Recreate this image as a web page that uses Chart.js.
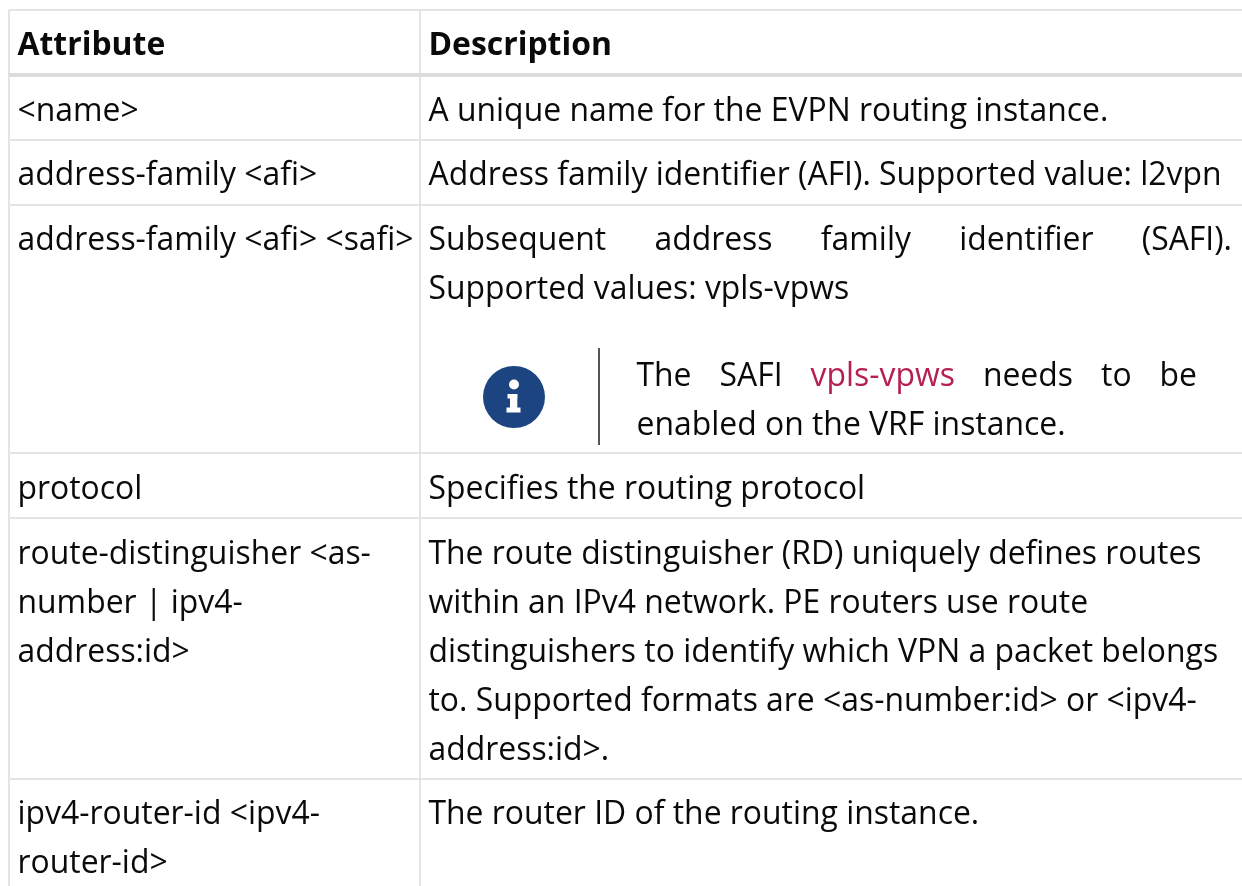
<!DOCTYPE html>
<html>
<head>
<meta charset="utf-8">
<script src="https://cdn.jsdelivr.net/npm/chart.js@4"></script>
<style>
  html, body { margin: 0; padding: 0; background: #fff; overflow: hidden; }
  #tableChart { display: block; }
</style>
</head>
<body>
<canvas id="tableChart" width="1242" height="886"></canvas>
<script>
// Table text
const headers = ['Attribute', 'Description'];
const attributes = [
    ['<name>'],
    ['address-family <afi>'],
    ['address-family <afi> <safi>'],
    ['protocol'],
    ['route-distinguisher <as-', 'number | ipv4-', 'address:id>'],
    ['ipv4-router-id <ipv4-', 'router-id>']
];
const descriptions = [
    ['A unique name for the EVPN routing instance.'],
    ['Address family identifier (AFI). Supported value: l2vpn'],
    ['Subsequent address family identifier (SAFI).', 'Supported values: vpls-vpws'],
    ['Specifies the routing protocol'],
    ['The route distinguisher (RD) uniquely defines routes', 'within an IPv4 network. PE routers use route',
     'distinguishers to identify which VPN a packet belongs', 'to. Supported formats are <as-number:id> or <ipv4-',
     'address:id>.'],
    ['The router ID of the routing instance.']
];
const noteLines = ['The SAFI vpls-vpws needs to be', 'enabled on the VRF instance.'];
const noteLink = 'vpls-vpws';

// Layout, in page pixels (the scales below run 1:1 with the canvas)
const colEdges = [9, 420];
const rowEdges = [10, 75, 140, 205, 453, 518, 779];
const headerRule = 75;
const headerBaseline = 55;
const rowBaselines = [121, 185, 250, 499, 564, 824];
const lineHeight = 49;
const cellPad = 8.5;
const noteBaselines = [386, 435];
const noteX = 636.5;
const noteRight = 1197;
const safiRight = 1232;
const noteRule = { x: 599, top: 348, bottom: 445 };
const icon = { x: 514, y: 397, r: 31 };

const FONT = '"Open Sans", sans-serif';
const FONT_SIZE = 31.9;
const TEXT = '#0a0a0a';
const LINK = '#b5204f';
const RULE = '#e4e4e4';
const HEADER_RULE = '#dcdcdc';

// spreads the words of a line between x and right
function drawJustified(ctx, line, x, right, y) {
    const words = line.split(' ');
    const used = words.reduce((sum, w) => sum + ctx.measureText(w).width, 0);
    const gap = (right - x - used) / (words.length - 1);
    let px = x;
    words.forEach(w => {
        ctx.fillStyle = w === noteLink ? LINK : TEXT;
        ctx.fillText(w, px, y);
        px += ctx.measureText(w).width + gap;
    });
    ctx.fillStyle = TEXT;
}

const tablePlugin = {
    id: 'tableText',
    afterDatasetsDraw(chart) {
        const ctx = chart.ctx;
        const sx = chart.scales.x;
        const sy = chart.scales.y;
        const left = sx.getPixelForValue(colEdges[0] + cellPad);
        const descX = sx.getPixelForValue(colEdges[1] + cellPad);

        ctx.save();
        ctx.textBaseline = 'alphabetic';
        ctx.fillStyle = TEXT;

        ctx.font = 'bold ' + FONT_SIZE + 'px ' + FONT;
        ctx.fillText(headers[0], left, sy.getPixelForValue(headerBaseline));
        ctx.fillText(headers[1], descX, sy.getPixelForValue(headerBaseline));

        ctx.font = FONT_SIZE + 'px ' + FONT;
        attributes.forEach((lines, r) => {
            lines.forEach((line, i) => {
                ctx.fillText(line, left, sy.getPixelForValue(rowBaselines[r] + i * lineHeight));
            });
        });
        descriptions.forEach((lines, r) => {
            lines.forEach((line, i) => {
                const y = sy.getPixelForValue(rowBaselines[r] + i * lineHeight);
                if (r === 2 && i === 0) {
                    drawJustified(ctx, line, descX, sx.getPixelForValue(safiRight), y);
                } else {
                    ctx.fillText(line, descX, y);
                }
            });
        });

        // note inside the SAFI row
        drawJustified(ctx, noteLines[0], sx.getPixelForValue(noteX), sx.getPixelForValue(noteRight), sy.getPixelForValue(noteBaselines[0]));
        ctx.fillText(noteLines[1], sx.getPixelForValue(noteX), sy.getPixelForValue(noteBaselines[1]));

        ctx.strokeStyle = '#555555';
        ctx.lineWidth = 2;
        ctx.beginPath();
        ctx.moveTo(sx.getPixelForValue(noteRule.x), sy.getPixelForValue(noteRule.top));
        ctx.lineTo(sx.getPixelForValue(noteRule.x), sy.getPixelForValue(noteRule.bottom));
        ctx.stroke();

        // the "i" of the info icon
        const ix = sx.getPixelForValue(icon.x);
        const iy = sy.getPixelForValue(icon.y);
        ctx.fillStyle = '#ffffff';
        ctx.beginPath();
        ctx.arc(ix, iy - 12.5, 5, 0, Math.PI * 2);
        ctx.fill();
        ctx.fillRect(ix - 6.5, iy - 3, 9.8, 4.5);
        ctx.fillRect(ix - 4, iy - 3, 7.3, 15);
        ctx.fillRect(ix - 7.5, iy + 10.5, 14, 5);
        ctx.restore();
    }
};

const tableChart = new Chart(document.getElementById('tableChart').getContext('2d'), {
    type: 'scatter',
    data: {
        datasets: [{
            data: [{ x: icon.x, y: icon.y }],
            pointRadius: icon.r,
            pointHoverRadius: icon.r,
            pointBackgroundColor: '#1b4480',
            pointBorderWidth: 0
        }]
    },
    options: {
        responsive: false,
        animation: false,
        events: [],
        layout: { autoPadding: false, padding: { left: colEdges[0], top: rowEdges[0], right: 0, bottom: 0 } },
        plugins: { legend: { display: false }, tooltip: { enabled: false } },
        scales: {
            x: {
                type: 'linear',
                min: colEdges[0],
                max: 1242,
                afterBuildTicks: scale => { scale.ticks = colEdges.map(v => ({ value: v })); },
                ticks: { display: false },
                border: { display: false },
                grid: { color: RULE, lineWidth: 2, drawTicks: false }
            },
            y: {
                type: 'linear',
                reverse: true,
                min: rowEdges[0],
                max: 886,
                afterBuildTicks: scale => { scale.ticks = rowEdges.map(v => ({ value: v })); },
                ticks: { display: false },
                border: { display: false },
                grid: {
                    color: ctx => ctx.tick && ctx.tick.value === headerRule ? HEADER_RULE : RULE,
                    lineWidth: ctx => ctx.tick && ctx.tick.value === headerRule ? 4 : 2,
                    drawTicks: false
                }
            }
        }
    },
    plugins: [tablePlugin]
});
</script>
</body>
</html>
